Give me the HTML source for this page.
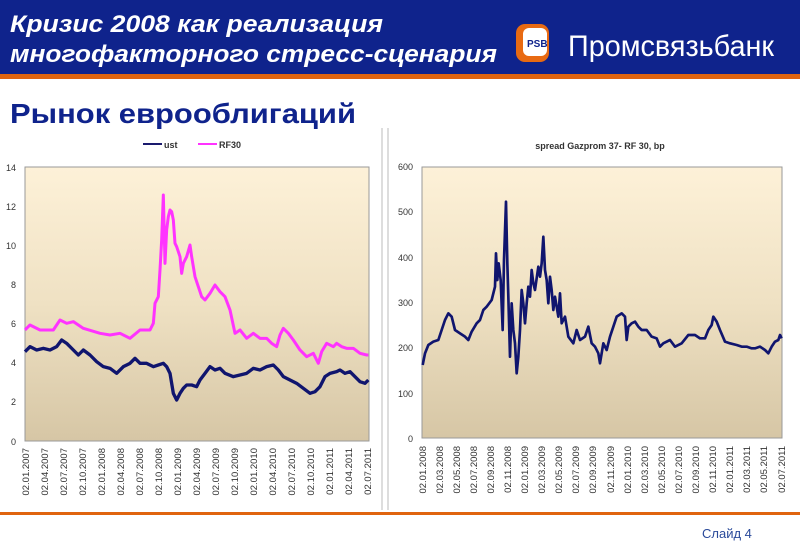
<!DOCTYPE html>
<html><head><meta charset="utf-8"><style>
body{margin:0;width:800px;height:554px;overflow:hidden;background:#fff;font-family:"Liberation Sans",sans-serif}
</style></head><body>
<svg width="800" height="554" xmlns="http://www.w3.org/2000/svg" font-family="Liberation Sans, sans-serif">
<defs>
<linearGradient id="g" x1="0" y1="0" x2="0" y2="1"><stop offset="0" stop-color="#fdf1d8"/><stop offset="0.5" stop-color="#efe1c3"/><stop offset="1" stop-color="#d6c6a5"/></linearGradient>
</defs>
<rect x="0" y="0" width="800" height="74" fill="#0f238c"/>
<rect x="0" y="74" width="800" height="5" fill="#e0640f"/>
<text x="10" y="32" fill="#fff" font-size="24" font-weight="bold" font-style="italic" textLength="373" lengthAdjust="spacingAndGlyphs">Кризис 2008 как реализация</text>
<text x="10" y="62" fill="#fff" font-size="24" font-weight="bold" font-style="italic" textLength="487" lengthAdjust="spacingAndGlyphs">многофакторного стресс-сценария</text>
<rect x="516" y="24" width="33" height="38" rx="9" fill="#e86a12"/>
<rect x="523" y="28" width="24" height="28" rx="6" fill="#fff"/>
<text x="527" y="47" font-size="10" fill="#0f238c" font-weight="bold">РSВ</text>
<text x="568" y="56" fill="#fff" font-size="30" textLength="206" lengthAdjust="spacingAndGlyphs">Промсвязьбанк</text>
<text x="10" y="123" fill="#0f238c" font-size="28" font-weight="bold" textLength="346" lengthAdjust="spacingAndGlyphs">Рынок еврооблигаций</text>
<line x1="382" y1="128" x2="382" y2="510" stroke="#bbb"/>
<line x1="388" y1="128" x2="388" y2="510" stroke="#bbb"/>
<rect x="0" y="512" width="800" height="3" fill="#e0640f"/>
<text x="702" y="538" fill="#2a4a9a" font-size="13">Слайд 4</text>

<!-- left chart -->
<line x1="143" y1="144" x2="162" y2="144" stroke="#1a1a6e" stroke-width="2"/>
<text x="164" y="148" font-size="9" font-weight="bold" fill="#333">ust</text>
<line x1="198" y1="144" x2="217" y2="144" stroke="#ff33ff" stroke-width="2"/>
<text x="219" y="148" font-size="9" font-weight="bold" fill="#333">RF30</text>
<rect x="25" y="167" width="344" height="274" fill="url(#g)" stroke="#999"/>
<g font-size="9" fill="#333" text-anchor="end">
<text x="16" y="171">14</text><text x="16" y="210">12</text><text x="16" y="249">10</text><text x="16" y="288">8</text><text x="16" y="327">6</text><text x="16" y="366">4</text><text x="16" y="405">2</text><text x="16" y="445">0</text>
</g>
<g font-size="9.5" fill="#333" text-anchor="end">
<text transform="translate(29,448) rotate(-90)">02.01.2007</text><text transform="translate(48,448) rotate(-90)">02.04.2007</text><text transform="translate(67,448) rotate(-90)">02.07.2007</text><text transform="translate(86,448) rotate(-90)">02.10.2007</text><text transform="translate(105,448) rotate(-90)">02.01.2008</text><text transform="translate(124,448) rotate(-90)">02.04.2008</text><text transform="translate(143,448) rotate(-90)">02.07.2008</text><text transform="translate(162,448) rotate(-90)">02.10.2008</text><text transform="translate(181,448) rotate(-90)">02.01.2009</text><text transform="translate(200,448) rotate(-90)">02.04.2009</text><text transform="translate(219,448) rotate(-90)">02.07.2009</text><text transform="translate(238,448) rotate(-90)">02.10.2009</text><text transform="translate(257,448) rotate(-90)">02.01.2010</text><text transform="translate(276,448) rotate(-90)">02.04.2010</text><text transform="translate(295,448) rotate(-90)">02.07.2010</text><text transform="translate(314,448) rotate(-90)">02.10.2010</text><text transform="translate(333,448) rotate(-90)">02.01.2011</text><text transform="translate(352,448) rotate(-90)">02.04.2011</text><text transform="translate(371,448) rotate(-90)">02.07.2011</text>
</g>
<g transform="translate(0,130) scale(0.33333)" fill="none" stroke-linejoin="round">
<polyline stroke="#ff33ff" stroke-width="9" points="75,600 90,585 120,600 160,600 180,570 200,580 220,575 250,595 300,610 330,615 360,610 390,625 420,600 450,600 460,580 465,520 475,500 480,420 485,330 490,195 495,400 500,300 505,260 510,240 515,245 520,270 525,340 530,350 540,380 545,430 550,400 560,380 570,345 575,380 585,440 595,470 605,500 615,510 630,490 645,465 660,485 675,500 690,540 705,610 720,600 740,625 760,610 780,625 800,625 815,640 830,650 840,615 850,595 865,610 880,630 900,660 920,680 940,670 955,700 965,665 980,640 1000,650 1010,640 1025,650 1040,655 1060,655 1080,670 1100,675 1105,675"/>
<polyline stroke="#10156e" stroke-width="10" points="75,665 90,650 110,660 130,655 150,660 170,650 185,630 200,640 220,660 235,675 250,660 270,675 290,695 310,710 330,715 350,730 370,710 390,700 405,685 420,700 440,700 460,710 475,705 490,700 500,710 510,730 520,790 530,810 540,790 550,775 560,765 575,765 590,770 600,750 615,730 630,710 645,720 660,715 675,730 700,740 720,735 740,730 760,715 780,720 800,710 820,705 835,720 850,740 870,750 890,760 910,775 930,790 945,785 960,770 975,740 990,730 1010,725 1020,720 1035,730 1050,725 1065,740 1080,755 1095,760 1105,750"/>
</g>

<!-- right chart -->
<text x="600" y="149" font-size="9" font-weight="bold" fill="#333" text-anchor="middle">spread Gazprom 37- RF 30, bp</text>
<rect x="422" y="167" width="360" height="271" fill="url(#g)" stroke="#999"/>
<g font-size="9" fill="#333" text-anchor="end">
<text x="413" y="170">600</text><text x="413" y="215">500</text><text x="413" y="261">400</text><text x="413" y="306">300</text><text x="413" y="351">200</text><text x="413" y="397">100</text><text x="413" y="442">0</text>
</g>
<g font-size="9.5" fill="#333" text-anchor="end">
<text transform="translate(426,446) rotate(-90)">02.01.2008</text><text transform="translate(443,446) rotate(-90)">02.03.2008</text><text transform="translate(460,446) rotate(-90)">02.05.2008</text><text transform="translate(477,446) rotate(-90)">02.07.2008</text><text transform="translate(494,446) rotate(-90)">02.09.2008</text><text transform="translate(511,446) rotate(-90)">02.11.2008</text><text transform="translate(528,446) rotate(-90)">02.01.2009</text><text transform="translate(545,446) rotate(-90)">02.03.2009</text><text transform="translate(562,446) rotate(-90)">02.05.2009</text><text transform="translate(579,446) rotate(-90)">02.07.2009</text><text transform="translate(596,446) rotate(-90)">02.09.2009</text><text transform="translate(614,446) rotate(-90)">02.11.2009</text><text transform="translate(631,446) rotate(-90)">02.01.2010</text><text transform="translate(648,446) rotate(-90)">02.03.2010</text><text transform="translate(665,446) rotate(-90)">02.05.2010</text><text transform="translate(682,446) rotate(-90)">02.07.2010</text><text transform="translate(699,446) rotate(-90)">02.09.2010</text><text transform="translate(716,446) rotate(-90)">02.11.2010</text><text transform="translate(733,446) rotate(-90)">02.01.2011</text><text transform="translate(750,446) rotate(-90)">02.03.2011</text><text transform="translate(767,446) rotate(-90)">02.05.2011</text><text transform="translate(785,446) rotate(-90)">02.07.2011</text>
</g>
<g transform="translate(380,130) scale(0.33333)" fill="none" stroke-linejoin="round">
<polyline stroke="#10156e" stroke-width="8" points="128,705 135,670 145,645 160,635 175,630 185,600 195,570 205,550 215,560 225,600 240,610 255,620 265,630 275,605 290,580 300,570 310,540 320,530 335,510 345,470 348,370 352,450 356,400 362,450 368,600 372,390 378,215 382,400 385,500 390,680 395,520 400,600 405,640 410,730 415,680 420,600 425,480 430,520 435,580 440,520 445,470 450,500 455,420 460,460 465,480 475,410 480,440 485,400 490,320 495,420 500,450 505,520 510,440 515,480 520,540 525,500 535,560 540,490 545,580 555,560 565,620 580,640 590,600 600,630 615,620 625,590 635,640 645,650 655,670 660,700 670,640 680,660 690,620 700,590 710,560 725,550 735,560 740,630 745,590 755,580 765,575 775,590 785,600 800,600 815,620 830,625 840,650 850,640 870,630 885,650 905,640 925,615 945,615 960,625 975,625 985,600 995,585 1000,560 1010,575 1020,600 1035,635 1050,640 1070,645 1085,650 1100,650 1115,655 1125,655 1140,650 1155,660 1165,670 1175,650 1185,635 1195,630 1200,615 1205,625"/>
</g>
</svg>
</body></html>
